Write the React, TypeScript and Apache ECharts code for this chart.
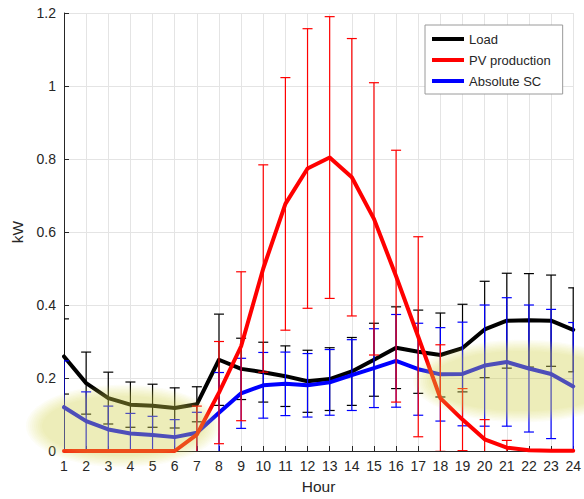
import React, { useEffect, useRef } from "react";
import * as echarts from "echarts";

const hours = [1, 2, 3, 4, 5, 6, 7, 8, 9, 10, 11, 12, 13, 14, 15, 16, 17, 18, 19, 20, 21, 22, 23, 24];

const loadMean = [0.259, 0.186, 0.145, 0.127, 0.124, 0.118, 0.128, 0.25, 0.225, 0.216, 0.205, 0.191, 0.197, 0.218, 0.25, 0.283, 0.272, 0.263, 0.282, 0.333, 0.357, 0.358, 0.357, 0.332];
const loadErr = [0.103, 0.085, 0.071, 0.062, 0.059, 0.055, 0.048, 0.125, 0.084, 0.082, 0.083, 0.085, 0.086, 0.093, 0.1, 0.112, 0.114, 0.115, 0.12, 0.132, 0.13, 0.128, 0.125, 0.115];

const pvMean = [0, 0, 0, 0, 0, 0, 0.045, 0.16, 0.287, 0.5, 0.677, 0.774, 0.804, 0.75, 0.636, 0.479, 0.313, 0.145, 0.086, 0.032, 0.009, 0.002, 0.001, 0.001];
const pvErr = [0, 0, 0, 0, 0, 0, 0.078, 0.14, 0.204, 0.284, 0.346, 0.383, 0.386, 0.38, 0.373, 0.345, 0.274, 0.146, 0.085, 0.054, 0.02, 0, 0, 0];

const scMean = [0.12, 0.082, 0.059, 0.048, 0.044, 0.038, 0.05, 0.105, 0.158, 0.18, 0.184, 0.18, 0.188, 0.208, 0.227, 0.247, 0.224, 0.21, 0.211, 0.234, 0.244, 0.226, 0.211, 0.177];
const scErr = [0.127, 0.08, 0.064, 0.055, 0.051, 0.048, 0.056, 0.11, 0.096, 0.09, 0.087, 0.087, 0.09, 0.097, 0.108, 0.127, 0.126, 0.128, 0.142, 0.166, 0.176, 0.174, 0.177, 0.175];

const seriesNames = ["Load", "PV production", "Absolute SC"];
const seriesColors = ["#000000", "#ff0000", "#0000ff"];

const FONT = "'Liberation Sans', Arial, Helvetica, sans-serif";
const AXIS_COLOR = "#262626";

function errorSeries(mean: number[], err: number[], color: string, z: number) {
  const data = hours
    .map((h, i) => [h, mean[i] - err[i], mean[i] + err[i], err[i]])
    .filter((d) => d[3] > 0);
  return {
    type: "custom",
    silent: true,
    clip: true,
    z,
    encode: { x: 0, y: [1, 2] },
    data,
    renderItem: (params: any, api: any) => {
      const x = api.value(0);
      const lo = api.coord([x, api.value(1)]);
      const hi = api.coord([x, api.value(2)]);
      const cw = 5;
      const st = { stroke: color, lineWidth: 1.2 };
      return {
        type: "group",
        children: [
          { type: "line", shape: { x1: lo[0], y1: lo[1], x2: hi[0], y2: hi[1] }, style: st },
          { type: "line", shape: { x1: hi[0] - cw, y1: hi[1], x2: hi[0] + cw, y2: hi[1] }, style: st },
          { type: "line", shape: { x1: lo[0] - cw, y1: lo[1], x2: lo[0] + cw, y2: lo[1] }, style: st },
        ],
      };
    },
  };
}

function lineSeries(name: string, mean: number[], color: string, z: number) {
  return {
    type: "line",
    name,
    z,
    data: hours.map((h, i) => [h, mean[i]]),
    showSymbol: false,
    symbol: "none",
    itemStyle: { color },
    lineStyle: { color, width: 4, join: "round", cap: "round" },
  };
}

function softEllipse(cx: number, cy: number, rx: number, ry: number) {
  const layers = [9, 7, 5, 3, 1, -1, -3, -5, -7];
  return layers.map((d) => ({
    type: "ellipse",
    z: 100,
    silent: true,
    shape: { cx, cy, rx: rx + d, ry: ry + d * 0.7 },
    style: { fill: "rgba(218,218,80,0.05)" },
  }));
}

export default function App() {
  const ref = useRef<HTMLDivElement>(null);
  useEffect(() => {
    if (!ref.current) return;
    const chart = echarts.init(ref.current, null, { renderer: "svg" });
    const option: any = {
      animation: false,
      backgroundColor: "#ffffff",
      textStyle: { fontFamily: FONT },
      grid: { left: 64, right: 8, top: 13, bottom: 46 },
      legend: {
        data: seriesNames,
        orient: "vertical",
        left: 425,
        top: 25,
        padding: [6, 12, 5, 7],
        itemWidth: 32,
        itemHeight: 4,
        itemGap: 5,
        icon: "rect",
        borderColor: "#9a9a9a",
        borderWidth: 1,
        backgroundColor: "#ffffff",
        textStyle: { fontSize: 13, lineHeight: 16, color: AXIS_COLOR, fontFamily: FONT },
      },
      xAxis: {
        type: "value",
        min: 1,
        max: 24,
        interval: 1,
        name: "Hour",
        nameLocation: "middle",
        nameGap: 27,
        nameTextStyle: { fontSize: 15.5, color: AXIS_COLOR, fontFamily: FONT },
        axisLine: { show: true, lineStyle: { color: AXIS_COLOR, width: 1 } },
        axisTick: { show: true, inside: true, length: 5, lineStyle: { color: AXIS_COLOR } },
        axisLabel: { fontSize: 14, color: AXIS_COLOR, margin: 8, fontFamily: FONT },
        splitLine: { show: true, lineStyle: { color: "#e4e4e4", width: 1 } },
      },
      yAxis: {
        type: "value",
        min: 0,
        max: 1.2,
        interval: 0.2,
        name: "kW",
        nameLocation: "middle",
        nameGap: 37,
        nameRotate: 90,
        nameTextStyle: { fontSize: 15.5, color: AXIS_COLOR, fontFamily: FONT },
        axisLine: { show: true, lineStyle: { color: AXIS_COLOR, width: 1 } },
        axisTick: { show: true, inside: true, length: 5, lineStyle: { color: AXIS_COLOR } },
        axisLabel: {
          fontSize: 14,
          color: AXIS_COLOR,
          margin: 8,
          fontFamily: FONT,
          formatter: (v: number) => String(parseFloat(v.toFixed(1))),
        },
        splitLine: { show: true, lineStyle: { color: "#e4e4e4", width: 1 } },
      },
      series: [
        errorSeries(loadMean, loadErr, seriesColors[0], 2),
        lineSeries(seriesNames[0], loadMean, seriesColors[0], 3),
        errorSeries(scMean, scErr, seriesColors[2], 4),
        lineSeries(seriesNames[2], scMean, seriesColors[2], 5),
        errorSeries(pvMean, pvErr, seriesColors[1], 6),
        lineSeries(seriesNames[1], pvMean, seriesColors[1], 7),
      ],
      graphic: [...softEllipse(123, 426, 88, 35), ...softEllipse(522, 381, 100, 35)],
    };
    chart.setOption(option);
    return () => chart.dispose();
  }, []);
  return (
    <div
      ref={ref}
      style={{ position: "fixed", left: 0, top: 0, width: 584, height: 499, background: "#fff" }}
    />
  );
}
